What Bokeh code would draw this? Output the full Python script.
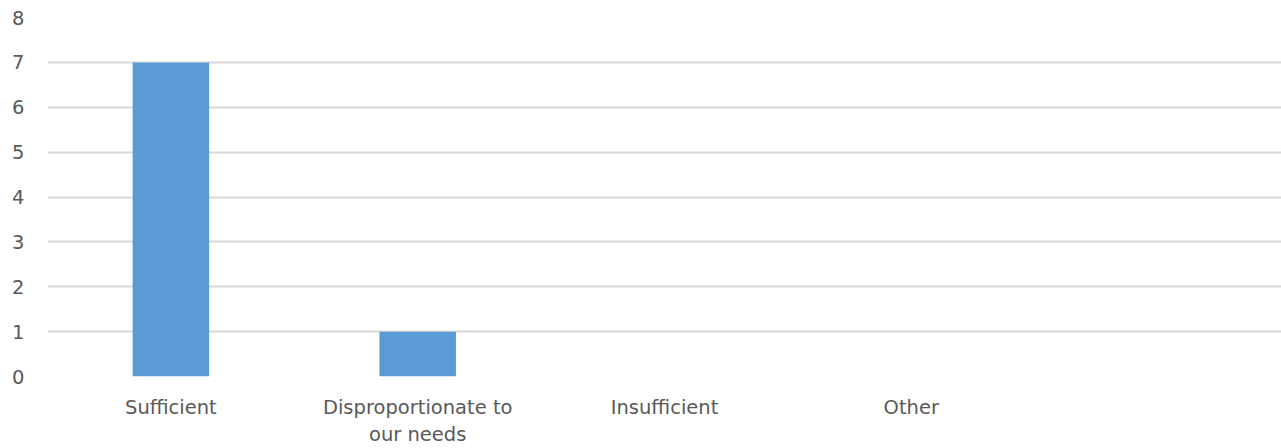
from bokeh.plotting import figure
from bokeh.embed import file_html
from bokeh.resources import INLINE
from bokeh.models import FixedTicker

categories = ["Sufficient", "Disproportionate to\nour needs", "Insufficient", "Other", " "]
values = [7, 1, 0, 0, 0]
y_ticks = [0, 1, 2, 3, 4, 5, 6, 7, 8]

p = figure(x_range=categories, y_range=(0, 8),
           frame_width=1234, frame_height=359,
           output_backend="svg", toolbar_location=None,
           min_border_left=47, min_border_right=0, min_border_top=17, min_border_bottom=0)

p.vbar(x=categories, top=values, width=0.31, color="#5b9bd5", line_color=None)

p.outline_line_color = None
p.xgrid.grid_line_color = None
p.ygrid.grid_line_color = "#d9d9d9"
p.ygrid.grid_line_width = 2
p.yaxis.ticker = FixedTicker(ticks=y_ticks)

for ax in (p.xaxis[0], p.yaxis[0]):
    ax.axis_line_color = None
    ax.major_tick_line_color = None
    ax.minor_tick_line_color = None
    ax.major_label_text_color = "#595959"
    ax.major_label_text_font = "DejaVu Sans"
    ax.major_label_text_font_size = "19.5px"

p.yaxis.major_label_standoff = 17
p.xaxis.major_label_standoff = 13
p.xaxis.major_label_orientation = "horizontal"

open("out.html", "w").write(file_html(p, INLINE))
